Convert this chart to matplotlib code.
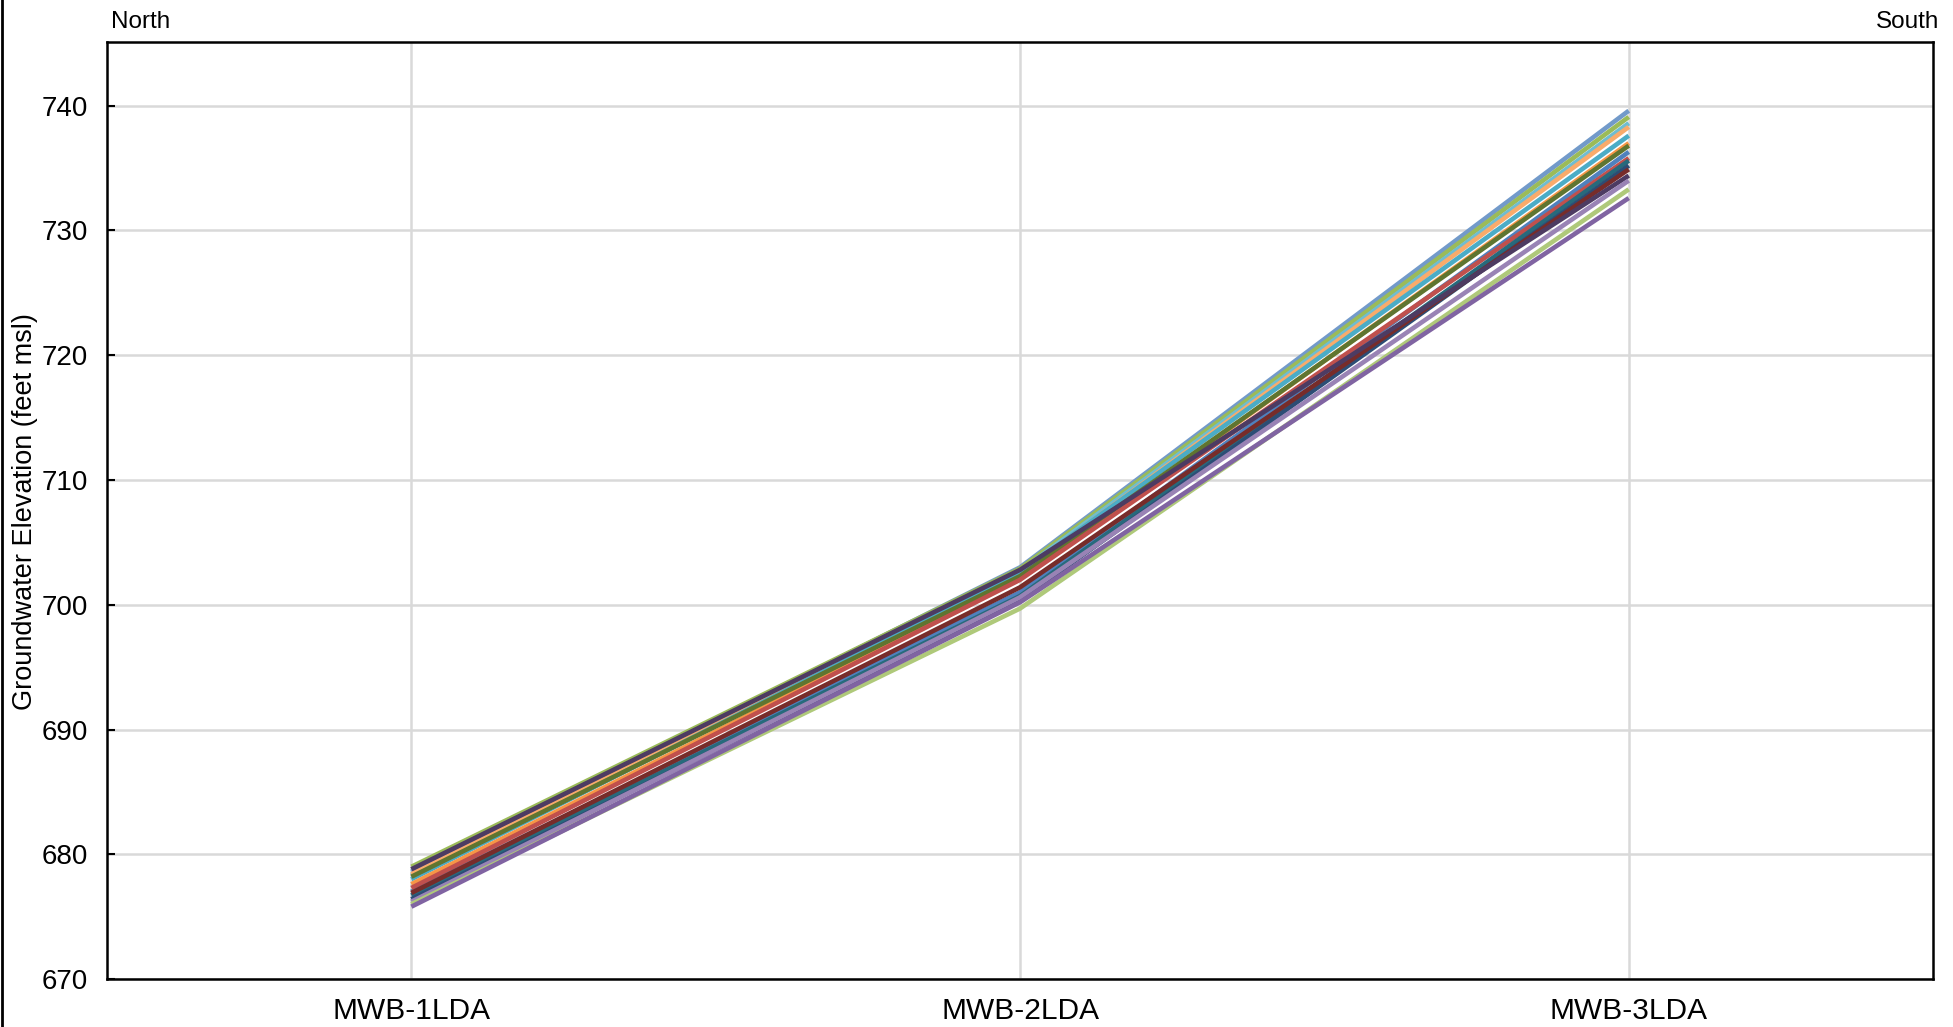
import matplotlib
matplotlib.use("Agg")
from matplotlib import pyplot as plt
from matplotlib.lines import Line2D

wells = ["MWB-1LDA", "MWB-2LDA", "MWB-3LDA"]

# groundwater elevation per monitoring event (feet msl) at each well
colors = ["#729ACA", "#9BBB59", "#6FBDD1", "#F9AB6B", "#4BACC6", "#F79646",
          "#5F7530", "#4F81BD", "#C0504D", "#276A7C", "#2C4D75", "#772C2A",
          "#4D3B62", "#9983B5", "#AFC97A", "#8064A2"]
mwb1 = [678.6, 679.0, 678.3, 678.4, 678.0, 677.6, 678.2, 677.0,
        677.3, 676.7, 676.4, 676.9, 678.8, 676.2, 676.0, 675.8]
mwb2 = [703.0, 702.9, 702.7, 702.5, 702.6, 702.1, 702.3, 701.0,
        702.0, 700.7, 700.4, 701.4, 702.8, 700.6, 699.7, 700.2]
mwb3 = [739.6, 739.1, 738.6, 738.3, 737.6, 737.0, 736.8, 736.3,
        735.8, 735.6, 735.2, 734.9, 734.4, 734.0, 733.3, 732.6]

plt.rcParams["font.family"] = ["Liberation Sans", "DejaVu Sans"]

fig = plt.figure(figsize=(19.53, 10.27), dpi=100)
ax = fig.add_axes([0.0548, 0.0467, 0.935, 0.9123])

x = list(range(len(wells)))
for c, a, b, d in zip(colors, mwb1, mwb2, mwb3):
    ax.plot(x, [a, b, d], color=c, linewidth=3.3, solid_capstyle="butt")

ax.set_xlim(-0.5, 2.5)
ax.set_ylim(670, 745.1)
ax.set_yticks(range(670, 741, 10))
ax.set_xticks(x)
ax.set_xticklabels(wells, fontsize=21.5)
ax.tick_params(axis="x", length=0, pad=13)
ax.tick_params(axis="y", direction="in", length=6, width=1.5, labelsize=20, pad=14)
ax.grid(True, color="#D9D9D9", linewidth=1.8)
ax.set_axisbelow(True)
for s in ax.spines.values():
    s.set_linewidth(1.8)
    s.set_color("black")

fig.text(0.0128, 0.5015, "Groundwater Elevation (feet msl)", fontsize=19.5,
         rotation=90, va="center", ha="center")

fig.text(0.057, 0.979, "North", fontsize=17.5, va="center", ha="left")
fig.text(0.993, 0.979, "South", fontsize=17.5, va="center", ha="right")

fig.add_artist(Line2D([0.0012, 0.0012], [0, 1], color="black", linewidth=2,
                      transform=fig.transFigure))

fig.savefig("out.png", dpi=100)
